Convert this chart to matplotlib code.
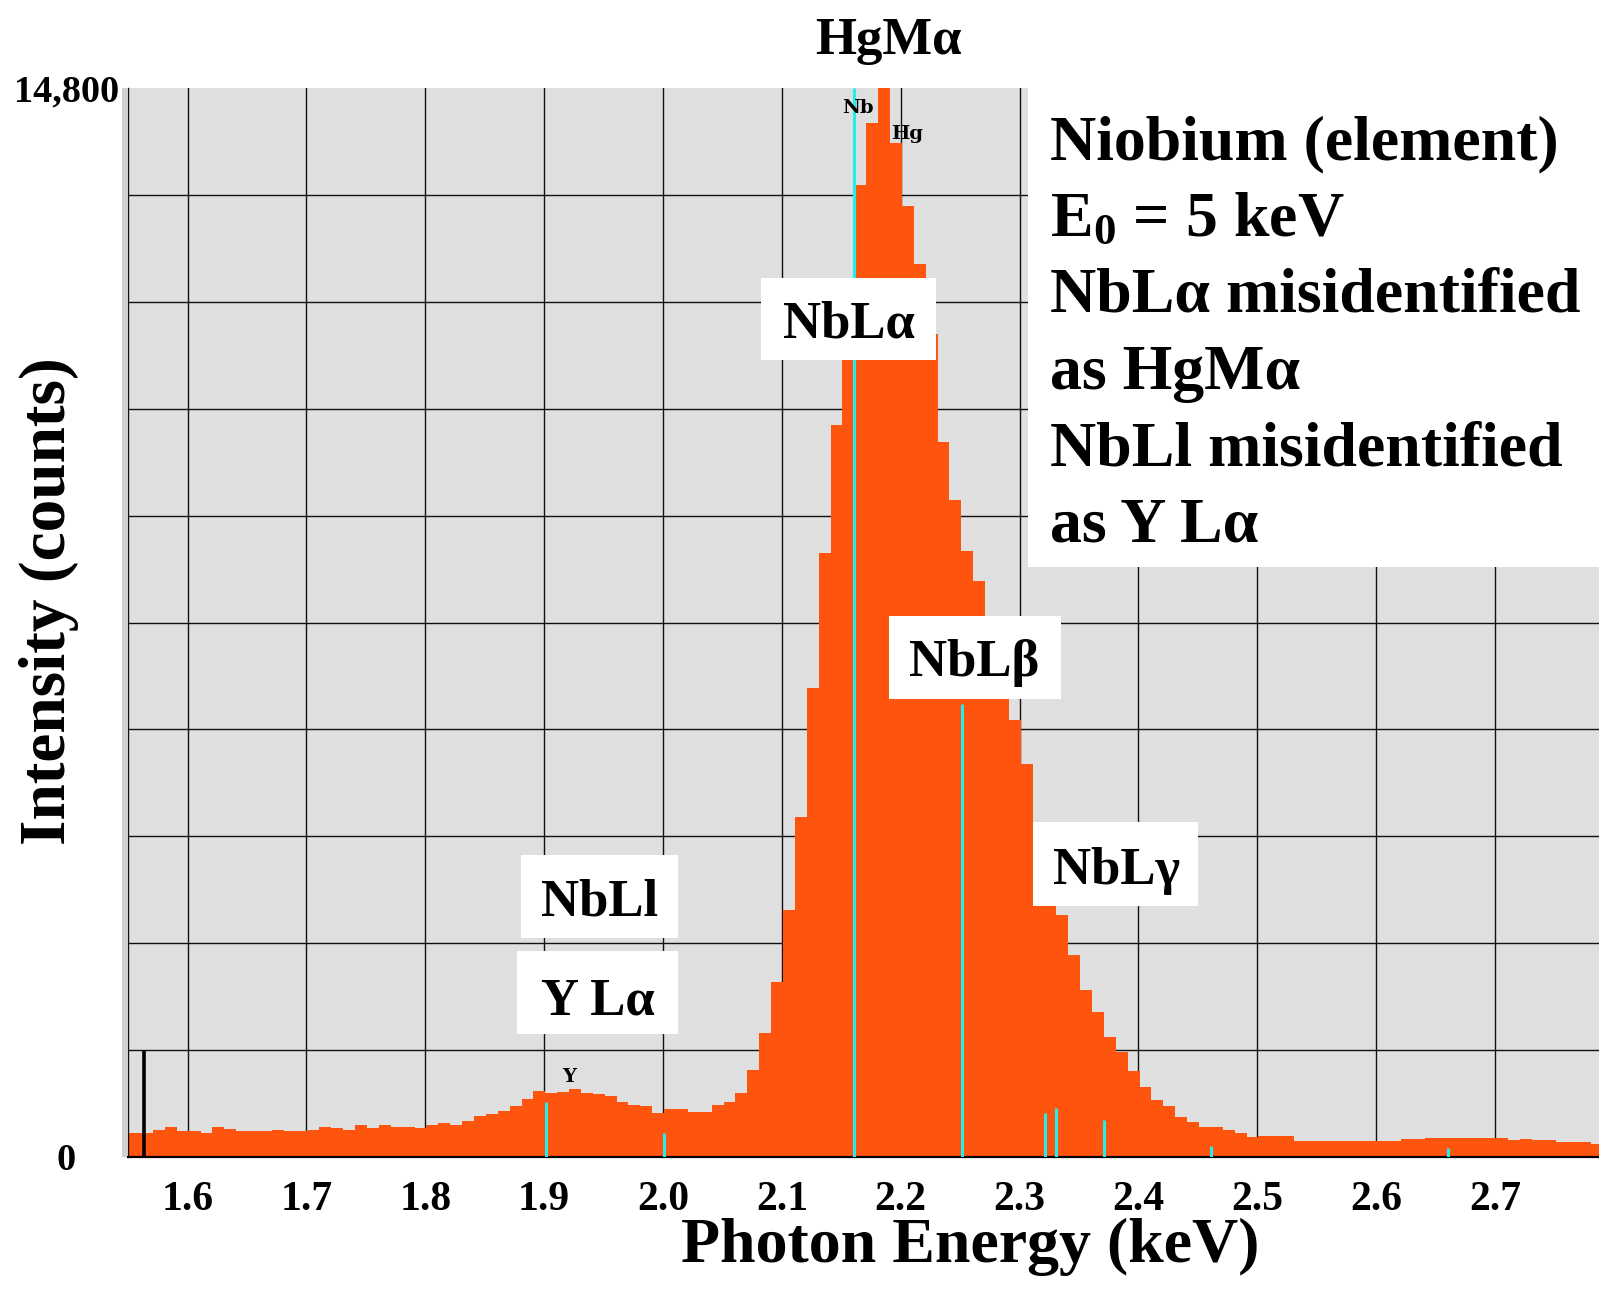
import matplotlib
matplotlib.use("Agg")
import matplotlib.pyplot as plt
from matplotlib.patches import Rectangle
import numpy as np

plt.rcParams['font.family'] = ['Liberation Serif', 'DejaVu Serif']
plt.rcParams['font.weight'] = 'bold'
plt.rcParams['mathtext.fontset'] = 'custom'
plt.rcParams['mathtext.rm'] = 'Liberation Serif:bold'
plt.rcParams['mathtext.it'] = 'Liberation Serif:bold'
plt.rcParams['mathtext.bf'] = 'Liberation Serif:bold'

# spectrum: 10 eV channels, first channel starts at 1.541 keV
first_channel = 1.541
channel_width = 0.01
counts = [
    327, 327, 327, 378, 420, 360, 360, 337, 420, 383,   # 1.541 ..
    360, 360, 360, 378, 360, 360, 373, 420, 401, 378,   # 1.641 ..
    443, 401, 443, 420, 420, 401, 443, 466, 443, 493,   # 1.741 ..
    572, 599, 641, 710, 800, 910, 890, 899, 936, 880,   # 1.841 ..
    871, 848, 761, 719, 701, 608, 664, 664, 627, 627,   # 1.941 ..
    715, 761, 890, 1199, 1715, 2420, 3421, 4711, 6500, 8357,   # 2.041 ..
    10137, 11800, 13452, 14310, 15500, 14034, 13166, 12368, 11400, 9900,  # 2.141 ..
    9090, 8390, 7973, 7000, 6500, 6047, 5444, 4300, 3900, 3344,   # 2.241 ..
    2791, 2307, 2011, 1665, 1452, 1195, 973, 790, 711, 553,   # 2.341 ..
    479, 420, 420, 380, 331, 282, 290, 290, 290, 215,   # 2.441 ..
    215, 215, 215, 215, 215, 225, 225, 225, 245, 245,   # 2.541 ..
    265, 265, 265, 265, 265, 265, 265, 240, 250, 230,   # 2.641 ..
    230, 205, 205, 205, 185,                            # 2.741 ..
]

# element marker lines (keV, counts)
marker_energy = [1.9017, 2.0010, 2.1607, 2.2513, 2.3216, 2.3306, 2.3709, 2.4608, 2.6602]
marker_height = [764, 328, 14800, 6271, 608, 679, 517, 147, 122]
strobe_energy = 1.5633
strobe_height = 1480

x_ticks = [1.6, 1.7, 1.8, 1.9, 2.0, 2.1, 2.2, 2.3, 2.4, 2.5, 2.6, 2.7]
x_tick_labels = ['1.6', '1.7', '1.8', '1.9', '2.0', '2.1', '2.2', '2.3', '2.4', '2.5', '2.6', '2.7']
y_max = 14800
y_tick_labels = ['0', '14,800']

orange = '#FF540E'
cyan = '#22EEEE'

fig = plt.figure(figsize=(15.99, 13.06), dpi=100)
ax = fig.add_axes([127.5 / 1599, 1 - 1157 / 1306, 1 - 127.5 / 1599, (1157 - 88) / 1306])
ax.set_facecolor('#DFDFDF')

# thin light strip just left of the plot frame
fig.patches.append(Rectangle((122 / 1599, 1 - 1157 / 1306), 5 / 1599, (1157 - 88) / 1306,
                             transform=fig.transFigure, facecolor='#D2D2CC',
                             edgecolor='none', zorder=0))

edges = first_channel + channel_width * np.arange(len(counts) + 1)
ax.stairs(counts, edges, fill=True, color=orange, linewidth=0, zorder=2)
ax.vlines(marker_energy, 0, marker_height, colors=cyan, linewidth=2.2, zorder=3)
ax.vlines(strobe_energy, 0, strobe_height, colors='black', linewidth=2.6, zorder=3)

ax.set_xlim(1.5495, 2.7875)
ax.set_ylim(0, y_max)

ax.set_xticks(x_ticks)
ax.set_xticklabels(x_tick_labels, fontsize=30, fontweight='bold')
ax.set_yticks([0, y_max])
ax.set_yticklabels(y_tick_labels, fontsize=27.5, fontweight='bold', ha='center')
ax.set_yticks(np.arange(1, 10) * y_max / 10, minor=True)
ax.tick_params(axis='x', which='both', length=0, pad=17)
ax.tick_params(axis='y', which='both', length=0, pad=44)
ax.set_axisbelow(True)
ax.grid(axis='x', which='major', color='#111111', linewidth=1.0)
ax.grid(axis='y', which='minor', color='#111111', linewidth=1.0)

for s in ['top', 'right']:
    ax.spines[s].set_visible(False)
ax.spines['left'].set_color('#111111')
ax.spines['left'].set_linewidth(1.0)
ax.spines['bottom'].set_color('black')
ax.spines['bottom'].set_linewidth(1.6)

ax.set_xlabel('Photon Energy (keV)', fontsize=46, fontweight='bold')
ax.xaxis.set_label_coords(0.5727, -0.057)
ax.set_ylabel('Intensity (counts)', fontsize=47, fontweight='bold')
ax.yaxis.set_label_coords(-0.033, 0.52)

# white label boxes (x0, x1, y0, y1) in data units
boxes = [
    (2.0826, 2.2301, 11036, 12165),
    (2.1904, 2.3347, 6341, 7496),
    (2.3115, 2.4503, 3477, 4633),
    (1.8809, 2.0130, 3026, 4182),
    (1.8775, 2.0130, 1696, 2852),
    (2.3073, 2.8000, 8174, 14900),
]
for x0, x1, y0, y1 in boxes:
    ax.add_patch(Rectangle((x0, y0), x1 - x0, y1 - y0, facecolor='white',
                           edgecolor='none', zorder=4))

peak_labels = [
    ('NbLα', 2.1563, 11347),
    ('NbLβ', 2.2619, 6656),
    ('NbLγ', 2.3813, 3776),
    ('NbLl', 1.9465, 3347),
    ('Y Lα', 1.9455, 1978),
]
for txt, x, y in peak_labels:
    ax.text(x, y, txt, fontsize=38, fontweight='bold', ha='center', va='baseline', zorder=5)

ax.text(2.19, 15268, 'HgMα', fontsize=38, fontweight='bold', ha='center', va='baseline',
        clip_on=False, zorder=5)

for txt, x, y in [('Nb', 2.1643, 14452), ('Hg', 2.2056, 14093), ('Y', 1.9207, 1041)]:
    ax.text(x, y, txt, fontsize=14, fontweight='bold', family='DejaVu Serif',
            ha='center', va='baseline', zorder=5)

info_lines = ['Niobium (element)', r'$\mathrm{E}_0$ = 5 keV', 'NbLα misidentified',
              'as HgMα', 'NbLl misidentified', 'as Y Lα']
info_y = [13816, 12750, 11700, 10631, 9570, 8519]
for txt, y in zip(info_lines, info_y):
    ax.text(2.3258, y, txt, fontsize=46, fontweight='bold', ha='left', va='baseline', zorder=5)

fig.savefig('out.png', dpi=100)
